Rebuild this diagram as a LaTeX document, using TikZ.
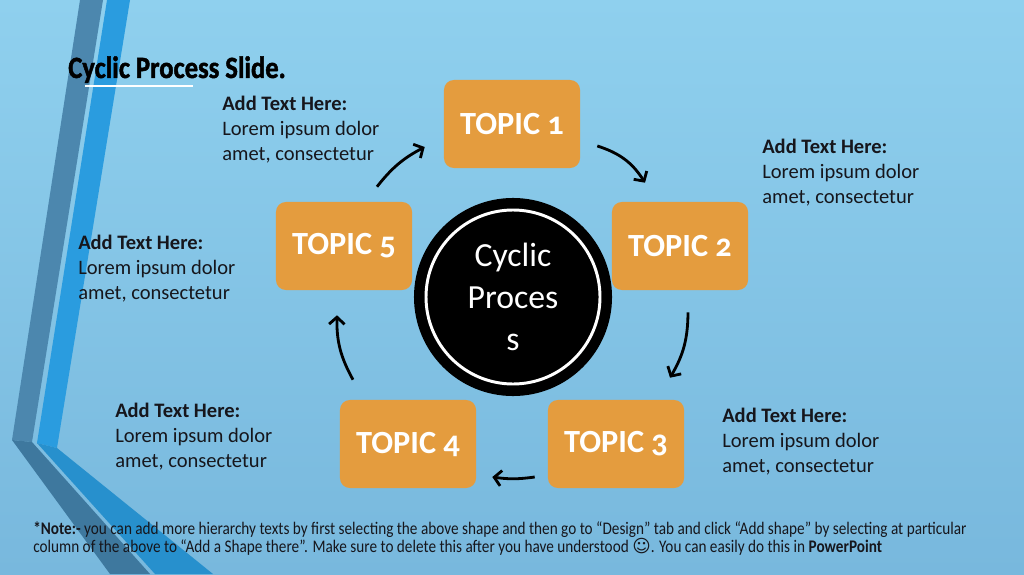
\documentclass[tikz,border=0pt]{standalone}
\usepackage{fontspec}
\setmainfont{Carlito}
\newfontfamily\topicfont{Carlito}[Numbers=OldStyle]
\newfontfamily\titlefont{Carlito}[FakeStretch=0.86, FakeBold=1.5]
\newfontfamily\notefont{Carlito}[FakeStretch=0.86]
\newfontfamily\symfont{DejaVu Sans}
\usepackage{tikz}
\usetikzlibrary{arrows.meta, positioning, calc}
\definecolor{slidetop}{RGB}{143,208,238}
\definecolor{slidebottom}{RGB}{120,184,221}
\definecolor{stripedark}{RGB}{76,135,174}
\definecolor{stripedeep}{RGB}{62,120,158}
\definecolor{stripebright}{RGB}{42,156,223}
\definecolor{topicorange}{RGB}{228,156,62}
\definecolor{textdark}{RGB}{22,22,28}
\tikzstyle{topic}=[rectangle, rounded corners=7pt, fill=topicorange,
                   minimum width=3.4cm, minimum height=2.2cm, text=white,
                   font=\topicfont\fontsize{23}{27}\selectfont\bfseries]
\tikzstyle{note}=[align=left, anchor=west, inner sep=0pt, text=textdark,
                  font=\fontsize{14.6}{17.8}\selectfont]
\tikzstyle{cyc}=[-{Straight Barb[length=5pt,width=11pt]}, line width=2pt, black]

\begin{document}
\begin{tikzpicture}[x=0.025cm, y=0.025cm]
  % Background
  \fill[top color=slidetop, bottom color=slidebottom] (0,0) rectangle (1024,574);
  \useasboundingbox (0,0) rectangle (1024,574);

  % Stripes
  \fill[stripedark] (80,574) -- (103,574) -- (32,132) -- (12,134) -- cycle;
  \fill[stripedeep] (12,134) -- (32,132) -- (150,0) -- (110,0) -- cycle;
  \fill[stripebright] (107,574) -- (130,574) -- (57,126) -- (37,131) -- cycle;
  \fill[stripebright!92!black] (37,131) -- (57,126) -- (213,0) -- (155,0) -- cycle;

  % Title
  \node[anchor=base west, inner sep=0pt,
        font=\titlefont\fontsize{22}{26}\selectfont\bfseries]
        (title) at (68,496) {Cyclic Process Slide.};
  \draw[white, line width=1.4pt] ([shift={(17,-8)}]title.base west) -- ++(108,0);

  % Hub
  \node[circle, fill=black, minimum size=4.95cm, inner sep=0pt,
        text=white, align=center, font=\fontsize{24}{30}\selectfont]
        (hub) at (513,277) {Cyclic\\Proces\\s};
  \draw[white, line width=2.1pt] (hub.center) circle (87);

  % Topics
  \foreach \n/\x/\y in {1/512/450, 2/680/328, 3/616/130, 4/408/130, 5/344/328}
    \node[topic] (t\n) at (\x,\y) {TOPIC \n};

  % Labels
  \foreach \n/\x/\y in {1/222/444, 2/762/401, 3/722/132, 4/115/137, 5/78/305}
    \node[note] (lbl\n) at (\x,\y) {\textbf{Add Text Here:}\\Lorem ipsum dolor\\amet, consectetur};

  % Arrows
  \draw[cyc] ([shift={(17,-22)}]t1.east) to[bend left=20] ([shift={(-35,19)}]t2.north);
  \draw[cyc] ([shift={(8,-22)}]t2.south) to[bend left=15] ([shift={(54,22)}]t3.north);
  \draw[cyc] ([shift={(-13,-33)}]t3.west) to[bend left=8] ([shift={(16,-33)}]t4.east);
  \draw[cyc] ([shift={(-55,20)}]t4.north) to[bend left=15] ([shift={(-7,-25)}]t5.south);
  \draw[cyc] ([shift={(33,15)}]t5.north) to[bend left=12] ([shift={(-19,-23)}]t1.west);

  % Footnote
  \node[anchor=west, align=left, inner sep=0pt, text=textdark,
        font=\notefont\fontsize{12.6}{12.8}\selectfont]
        (foot) at (33,35) {\textbf{*Note:-} you can add more hierarchy texts by first selecting the above shape and then go to “Design” tab and click “Add shape” by selecting at particular\\column of the above to “Add a Shape there”. Make sure to delete this after you have understood {\symfont ☺}. You can easily do this in \textbf{PowerPoint}};
\end{tikzpicture}
\end{document}
